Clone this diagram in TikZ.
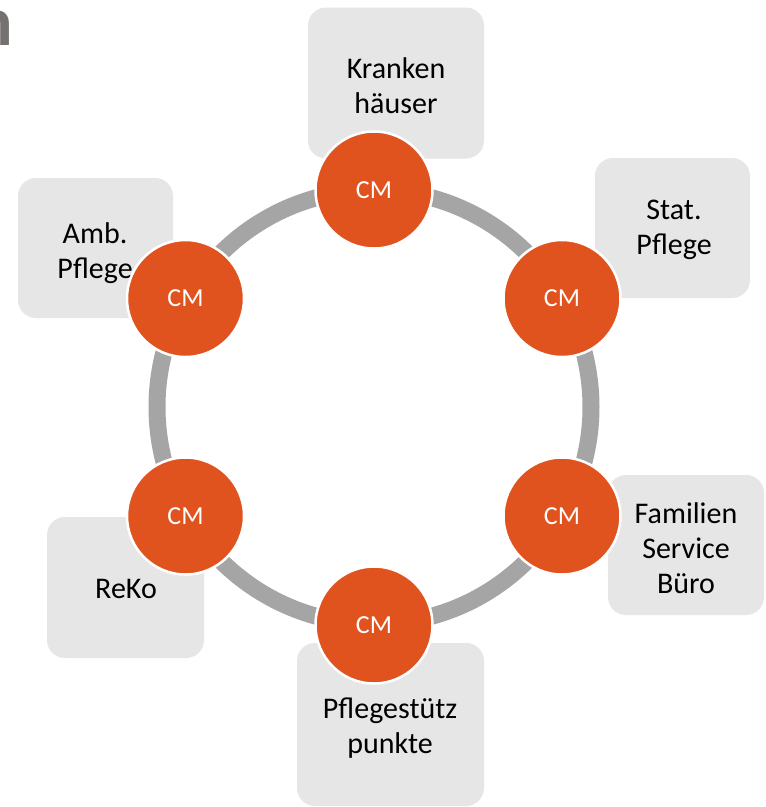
\documentclass[tikz,border=0pt]{standalone}
\usepackage{fontspec}
\setmainfont{Carlito}
\definecolor{cmorange}{HTML}{E0531F}
\definecolor{ringgray}{HTML}{A5A5A5}
\definecolor{boxgray}{HTML}{E7E6E6}
\definecolor{titlegray}{HTML}{767171}
\begin{document}
\begin{tikzpicture}[x=1pt,y=-1pt,
  ring/.style={draw=ringgray,line width=17pt},
  boxnode/.style={draw=none,fill=boxgray,rounded corners=18pt,inner sep=0pt},
  boxtext/.style={align=center,inner sep=0pt,text=black,font=\fontsize{30}{35}\selectfont},
  cmnode/.style={circle,fill=cmorange,draw=white,line width=2.5pt,minimum size=117pt,inner sep=0pt,text=white,font=\fontsize{26}{30}\selectfont}]
\useasboundingbox (0,0) rectangle (766,807);
\fill[white] (0,0) rectangle (766,807);
% title fragment
\node[anchor=base east,inner sep=0pt,text=titlegray,font=\fontsize{70}{80}\selectfont\bfseries] (title) at (13,45) {n};
% ring
\draw[ring] (374,407) circle (217);
% boxes
\node[boxnode,minimum width=176pt,minimum height=151pt] (bK) at (396,83) {};
\node[boxnode,minimum width=155pt,minimum height=140pt] (bS) at (672.5,228) {};
\node[boxnode,minimum width=155pt,minimum height=140pt] (bA) at (95.5,248) {};
\node[boxnode,minimum width=156pt,minimum height=140pt] (bF) at (686,545) {};
\node[boxnode,minimum width=157pt,minimum height=141pt] (bR) at (125.5,587.5) {};
\node[boxnode,minimum width=187pt,minimum height=163pt] (bP) at (390.5,724.5) {};
% box texts
\node[boxtext] (tK) at (396,86) {Kranken\\häuser};
\node[boxtext] (tS) at (674,230) {Stat.\\Pflege};
\node[boxtext] (tA) at (95,253) {Amb.\\Pflege};
\node[boxtext] (tF) at (686,548) {Familien\\Service\\Büro};
\node[boxtext] (tR) at (126,589) {ReKo};
\node[boxtext] (tP) at (390,728) {Pflegestütz\\punkte};
% CM circles
\node[cmnode] (c1) at (374,190) {CM};
\node[cmnode] (c2) at (562,298.5) {CM};
\node[cmnode] (c3) at (562,516) {CM};
\node[cmnode] (c4) at (374,625) {CM};
\node[cmnode] (c5) at (185.5,516) {CM};
\node[cmnode] (c6) at (185.5,298.5) {CM};
\end{tikzpicture}
\end{document}
